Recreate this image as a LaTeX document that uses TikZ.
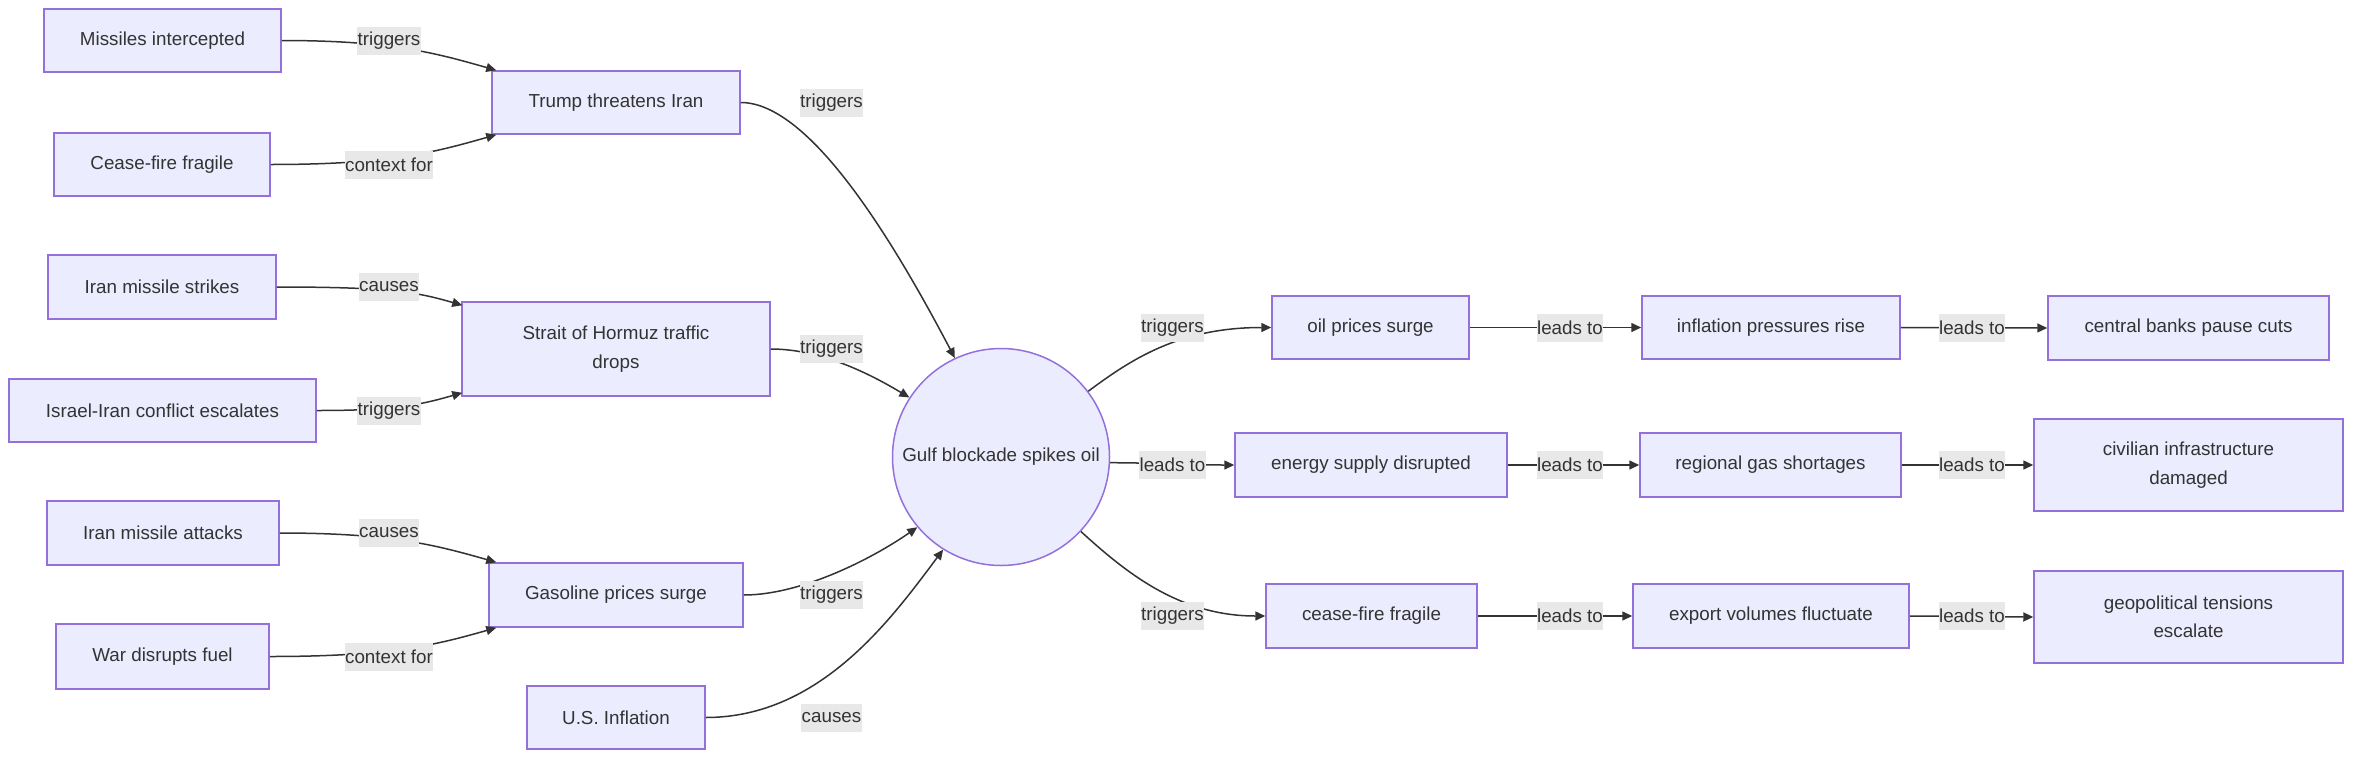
\documentclass[tikz,border=0pt]{standalone}
\usepackage{fontspec}
\setmainfont{Liberation Sans}
\usetikzlibrary{arrows.meta,calc}
\definecolor{boxfill}{HTML}{ECECFF}
\definecolor{boxline}{HTML}{9370DB}
\definecolor{edgecol}{HTML}{333333}
\definecolor{txtcol}{HTML}{333333}
\definecolor{lblbg}{HTML}{E8E8E8}
\tikzset{
 box/.style={draw=boxline, fill=boxfill, line width=1.5pt, rectangle, inner sep=0pt, text=txtcol, align=center},
 circ/.style={draw=boxline, fill=boxfill, line width=1.5pt, circle, inner sep=0pt, minimum size=217pt, text=txtcol},
 lbl/.style={fill=lblbg, inner xsep=0.5pt, inner ysep=0pt, minimum height=28pt, text=txtcol},
 edge/.style={draw=edgecol, line width=1.5pt, -{Triangle[length=10pt,width=9pt]}},
}
\begin{document}
\begin{tikzpicture}[x=1pt,y=-1pt,font=\fontsize{18.8}{28.5}\selectfont]
\useasboundingbox (0,0) rectangle (2368,766);
% left column
\node[box,minimum width=237pt,minimum height=63pt] (mi) at (162.5,40.5) {Missiles intercepted};
\node[box,minimum width=216pt,minimum height=63pt] (cf) at (162,164.5) {Cease-fire fragile};
\node[box,minimum width=228pt,minimum height=64pt] (ims) at (162,287) {Iran missile strikes};
\node[box,minimum width=307pt,minimum height=63pt] (iie) at (162.5,410.5) {Israel-Iran conflict escalates};
\node[box,minimum width=232pt,minimum height=64pt] (ima) at (163,533) {Iran missile attacks};
\node[box,minimum width=213pt,minimum height=65pt] (wdf) at (162.5,656.5) {War disrupts fuel};
% middle column
\node[box,minimum width=248pt,minimum height=63pt] (tt) at (616,102.5) {Trump threatens Iran};
\node[box,minimum width=308pt,minimum height=94pt] (st) at (616,349) {Strait of Hormuz traffic\\drops};
\node[box,minimum width=254pt,minimum height=64pt] (gs) at (616,595) {Gasoline prices surge};
\node[box,minimum width=178pt,minimum height=63pt] (usi) at (616,717.5) {U.S. Inflation};
% hub
\node[circ] (c) at (1001,457) {Gulf blockade spikes oil};
% right columns
\node[box,minimum width=197pt,minimum height=63pt] (oil) at (1370.5,327.5) {oil prices surge};
\node[box,minimum width=272pt,minimum height=64pt] (en) at (1371,465) {energy supply disrupted};
\node[box,minimum width=211pt,minimum height=64pt] (cf2) at (1371.5,616) {cease-fire fragile};
\node[box,minimum width=258pt,minimum height=63pt] (inf) at (1771,327.5) {inflation pressures rise};
\node[box,minimum width=261pt,minimum height=64pt] (rg) at (1770.5,465) {regional gas shortages};
\node[box,minimum width=276pt,minimum height=64pt] (ex) at (1771,616) {export volumes fluctuate};
\node[box,minimum width=281pt,minimum height=64pt] (cb) at (2188.5,328) {central banks pause cuts};
\node[box,minimum width=309pt,minimum height=92pt] (ci) at (2188.5,465) {civilian infrastructure\\damaged};
\node[box,minimum width=309pt,minimum height=92pt] (geo) at (2188.5,617) {geopolitical tensions\\escalate};
% edges left -> middle
\draw[edge] (mi.east) .. controls +(110,0) and +(-60,-17) .. ($(tt.north west)+(5,0)$);
\draw[edge] (cf.east) .. controls +(121,0) and +(-60,17) .. ($(tt.south west)+(5,0)$);
\draw[edge] (ims.east) .. controls +(115,0) and +(-45,-13) .. ($(st.north west)+(1,4)$);
\draw[edge] (iie.east) .. controls +(75,0) and +(-45,13) .. ($(st.south west)+(1,-4)$);
\draw[edge] (ima.east) .. controls +(112,0) and +(-60,-17) .. ($(gs.north west)+(8,0)$);
\draw[edge] (wdf.east) .. controls +(122,0) and +(-60,17) .. ($(gs.south west)+(8,0)$);
% edges middle -> hub
\draw[edge] (tt.east) .. controls +(70,0) and +(-60,-114) .. (c.115);
\draw[edge] (st.east) .. controls +(50,0) and +(-40,-24) .. (c.147);
\draw[edge] (gs.east) .. controls +(57,0) and +(-46,32) .. (c.220);
\draw[edge] (usi.east) .. controls +(115,0) and +(-51,68) .. (c.238);
% hub -> right
\draw[edge] (c.37) .. controls +(43,-32) and +(-92,0) .. (oil.west);
\draw[edge] (c.-3) .. controls +(40,0) and +(-40,0) .. (en.west);
\draw[edge] (c.-43) .. controls +(45,41) and +(-86,0) .. (cf2.west);
\draw[edge] (oil.east) -- (inf.west);
\draw[edge] (en.east) -- (rg.west);
\draw[edge] (cf2.east) -- (ex.west);
\draw[edge] (inf.east) -- (cb.west);
\draw[edge] (rg.east) -- (ci.west);
\draw[edge] (ex.east) -- (geo.west);
% labels
\node[lbl] (l1) at (389,40.5) {triggers};
\node[lbl] (l2) at (389,164.5) {context for};
\node[lbl] (l3) at (389,287) {causes};
\node[lbl] (l4) at (389,410.5) {triggers};
\node[lbl] (l5) at (389,533) {causes};
\node[lbl] (l6) at (389,656.5) {context for};
\node[lbl] (l7) at (831.5,103) {triggers};
\node[lbl] (l8) at (831.5,349) {triggers};
\node[lbl] (l9) at (831.5,595) {triggers};
\node[lbl] (l10) at (831.5,718) {causes};
\node[lbl] (l11) at (1172.5,328) {triggers};
\node[lbl] (l12) at (1172.5,465) {leads to};
\node[lbl] (l13) at (1172.5,616) {triggers};
\node[lbl] (l14) at (1570,328) {leads to};
\node[lbl] (l15) at (1570,465) {leads to};
\node[lbl] (l16) at (1570,616) {leads to};
\node[lbl] (l17) at (1972,328) {leads to};
\node[lbl] (l18) at (1972,465) {leads to};
\node[lbl] (l19) at (1972,616) {leads to};
\end{tikzpicture}
\end{document}
